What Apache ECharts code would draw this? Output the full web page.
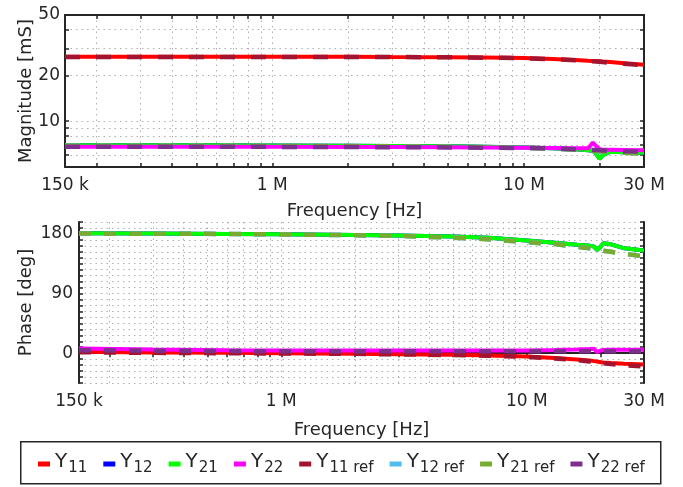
<!DOCTYPE html>
<html>
<head>
<meta charset="utf-8">
<script src="https://cdn.jsdelivr.net/npm/echarts@6/dist/echarts.min.js"></script>
<style>
  html, body { margin: 0; padding: 0; background: #fff; }
  #chart { width: 683px; height: 487px; }
</style>
</head>
<body>
<div id="chart"></div>
<script>
// frequency points [Hz]
const freq = [150e3, 300e3, 600e3, 1e6, 2e6, 3e6, 5e6, 7e6, 10e6, 13e6, 16e6, 18e6, 18.8e6, 19.3e6, 20e6, 20.5e6, 22e6, 25e6, 30e6];

// magnitude [mS]
const magY11    = [26.6, 26.6, 26.6, 26.6, 26.6, 26.5, 26.4, 26.3, 26.1, 25.7, 25.3, 25.0, 24.9, 24.9, 24.8, 24.7, 24.5, 24.1, 23.5];
const magY12    = [6.95, 6.95, 6.95, 6.93, 6.9, 6.88, 6.85, 6.8, 6.72, 6.65, 6.55, 6.45, 6.4, 6.15, 5.65, 5.95, 6.3, 6.25, 6.2];
const magY21    = [6.95, 6.95, 6.95, 6.93, 6.9, 6.88, 6.85, 6.8, 6.72, 6.65, 6.55, 6.45, 6.4, 6.15, 5.65, 5.95, 6.3, 6.25, 6.2];
const magY22    = [6.8, 6.8, 6.8, 6.8, 6.78, 6.78, 6.75, 6.73, 6.7, 6.67, 6.63, 6.65, 7.25, 6.9, 6.55, 6.5, 6.5, 6.48, 6.45];
const magY11ref = [26.5, 26.5, 26.5, 26.5, 26.5, 26.45, 26.35, 26.2, 26.0, 25.6, 25.2, 24.9, 24.8, 24.7, 24.6, 24.5, 24.3, 23.9, 23.3];
const magY12ref = [6.9, 6.9, 6.9, 6.88, 6.86, 6.84, 6.8, 6.75, 6.68, 6.6, 6.5, 6.42, 6.4, 6.38, 6.35, 6.33, 6.3, 6.2, 6.1];
const magY21ref = [6.9, 6.9, 6.9, 6.88, 6.86, 6.84, 6.8, 6.75, 6.68, 6.6, 6.5, 6.42, 6.4, 6.38, 6.35, 6.33, 6.3, 6.2, 6.1];
const magY22ref = [6.8, 6.8, 6.8, 6.78, 6.76, 6.75, 6.73, 6.7, 6.67, 6.62, 6.55, 6.5, 6.48, 6.46, 6.45, 6.43, 6.4, 6.35, 6.3];

// phase [deg]
const phY11    = [2, 1, 0.5, 0, -0.8, -1.5, -2.5, -3.5, -5, -7.2, -9.5, -11.2, -12, -12.5, -13.6, -14, -14.8, -15.8, -17];
const phY12    = [181, 180.5, 180, 179.5, 178.5, 177.5, 176, 174.4, 170, 166.8, 163.8, 162.3, 160.8, 155.7, 161, 166, 164.3, 158.3, 155];
const phY21    = [181, 180.5, 180, 179.5, 178.5, 177.5, 176, 174.4, 170, 166.8, 163.8, 162.3, 160.8, 155.7, 161, 166, 164.3, 158.3, 155];
const phY22    = [7, 5.5, 4.3, 4, 4, 4, 4, 4, 4.2, 4.8, 5.5, 6.2, 6.6, 1.5, 4, 4.8, 5, 5, 5];
const phY11ref = [1.5, 0.5, 0, -0.5, -1, -1.8, -2.8, -3.8, -5.5, -8, -10.5, -12.5, -13.3, -13.8, -14.8, -15.3, -16.5, -18.2, -20];
const phY12ref = [180.5, 180.3, 180, 179.3, 178, 177, 174.4, 172, 167.5, 164.7, 160.6, 158.5, 157.5, 156.8, 155.5, 154.6, 153, 150, 146];
const phY21ref = [180.5, 180.3, 180, 179.3, 178, 177, 174.4, 172, 167.5, 164.7, 160.6, 158.5, 157.5, 156.8, 155.5, 154.6, 153, 150, 146];
const phY22ref = [4.5, 3.8, 3.2, 3, 3, 3, 3, 3, 3, 3, 3, 3, 3, 3, 3, 3, 3, 3, 3];

// axis ticks
const freqLabels = [150e3, 1e6, 10e6, 30e6];
const freqGrid = [200e3, 300e3, 400e3, 500e3, 600e3, 700e3, 800e3, 900e3, 1e6, 2e6, 3e6, 4e6, 5e6, 6e6, 7e6, 8e6, 9e6, 10e6, 20e6];
const magLabels = [10, 20, 50];
const magGrid = [6, 7, 8, 9, 10, 20, 30, 40];
const phaseLabels = [0, 90, 180];

const names  = ['Y11', 'Y12', 'Y21', 'Y22', 'Y11 ref', 'Y12 ref', 'Y21 ref', 'Y22 ref'];
const colors = ['#FF0000', '#0000FF', '#00FF00', '#FF00FF', '#A2142F', '#4DBEEE', '#77AC30', '#7E2F8E'];
const magData = [magY11, magY12, magY21, magY22, magY11ref, magY12ref, magY21ref, magY22ref];
const phData  = [phY11, phY12, phY21, phY22, phY11ref, phY12ref, phY21ref, phY22ref];

const FONT = 'DejaVu Sans';
const INK = '#262626';
const GRID_LINE = { show: true, lineStyle: { color: '#b0b0b0', width: 1, type: [1.5, 4] } };

function fmtFreq(v) {
  return v >= 1e6 ? Math.round(v / 1e6) + ' M' : Math.round(v / 1e3) + ' k';
}

function freqAxis(gridIndex, position, gap) {
  const main = position === 'bottom';
  return {
    type: 'log', gridIndex, position, min: 150e3, max: 30e6,
    name: main ? 'Frequency [Hz]' : '',
    nameLocation: 'middle', nameGap: gap,
    nameTextStyle: { fontFamily: FONT, fontSize: 18, color: INK },
    axisLine: { show: true, lineStyle: { color: INK, width: 2 } },
    axisTick: { show: true, inside: true, length: 4, customValues: freqGrid, lineStyle: { color: INK, width: 1.5 } },
    axisLabel: {
      show: main, customValues: freqLabels, formatter: fmtFreq, margin: 10,
      fontFamily: FONT, fontSize: 17, color: INK
    },
    splitLine: main ? GRID_LINE : { show: false }
  };
}

function boxYAxis(gridIndex, position, extra) {
  const main = position === 'left';
  return Object.assign({
    gridIndex, position,
    nameLocation: 'middle', nameRotate: 90, nameMoveOverlap: false,
    nameTextStyle: { fontFamily: FONT, fontSize: 18, color: INK },
    axisLine: { show: true, lineStyle: { color: INK, width: 2 } },
    axisTick: { show: true, inside: true, length: 4, lineStyle: { color: INK, width: 1.5 } },
    axisLabel: { show: main, margin: 5, fontFamily: FONT, fontSize: 17, color: INK },
    splitLine: main ? GRID_LINE : { show: false }
  }, extra);
}

const magAxis = (pos) => boxYAxis(0, pos, {
  type: 'log', min: 5, max: 50,
  name: pos === 'left' ? 'Magnitude [mS]' : '', nameGap: 30,
  axisTick: { show: true, inside: true, length: 4, customValues: magGrid.concat([50]), lineStyle: { color: INK, width: 1.5 } },
  axisLabel: { show: pos === 'left', customValues: magLabels, margin: 5, fontFamily: FONT, fontSize: 17, color: INK }
});

const phaseAxis = (pos) => boxYAxis(1, pos, {
  type: 'value', min: -45, max: 198, interval: 9,
  name: pos === 'left' ? 'Phase [deg]' : '', nameGap: 44,
  axisLabel: { show: pos === 'left', customValues: phaseLabels, margin: 6, fontFamily: FONT, fontSize: 17, color: INK }
});

function makeSeries(values, i, xIdx, yIdx, dash) {
  const isRef = i >= 4;
  return {
    name: names[i], type: 'line', xAxisIndex: xIdx, yAxisIndex: yIdx,
    color: colors[i], showSymbol: false, silent: true,
    data: freq.map((f, k) => [f, values[k]]),
    lineStyle: { width: isRef ? 4.5 : 4, type: isRef ? dash : 'solid', cap: 'butt' },
    z: 2 + i
  };
}

const series = [];
magData.forEach((d, i) => series.push(makeSeries(d, i, 0, 0, [15, 16])));
phData.forEach((d, i) => series.push(makeSeries(d, i, 2, 2, [12, 13])));

const chart = echarts.init(document.getElementById('chart'), null, { renderer: 'canvas' });
chart.setOption({
  animation: false,
  backgroundColor: '#fff',
  grid: [
    { left: 65, top: 15, width: 579, height: 152 },
    { left: 79, top: 222, width: 565, height: 161 }
  ],
  xAxis: [freqAxis(0, 'bottom', 35), freqAxis(0, 'top', 0), freqAxis(1, 'bottom', 38), freqAxis(1, 'top', 0)],
  yAxis: [magAxis('left'), magAxis('right'), phaseAxis('left'), phaseAxis('right')],
  legend: {
    data: names,
    left: 33, top: 447, width: 640,
    icon: 'rect', itemWidth: 12, itemHeight: 5, itemGap: 16,
    selectedMode: false,
    formatter: (n) => '{a|Y}{b|' + n.slice(1) + '}',
    textStyle: {
      color: INK,
      rich: {
        a: { fontFamily: FONT, fontSize: 20, color: INK, verticalAlign: 'top', lineHeight: 24 },
        b: { fontFamily: FONT, fontSize: 15, color: INK, verticalAlign: 'top', lineHeight: 24, padding: [9, 0, 0, 1] }
      }
    }
  },
  graphic: [{
    type: 'rect', left: 20, top: 441, z: -1,
    shape: { width: 640, height: 42 },
    style: { fill: '#fff', stroke: INK, lineWidth: 1.5 }
  }],
  series
});
</script>
</body>
</html>
